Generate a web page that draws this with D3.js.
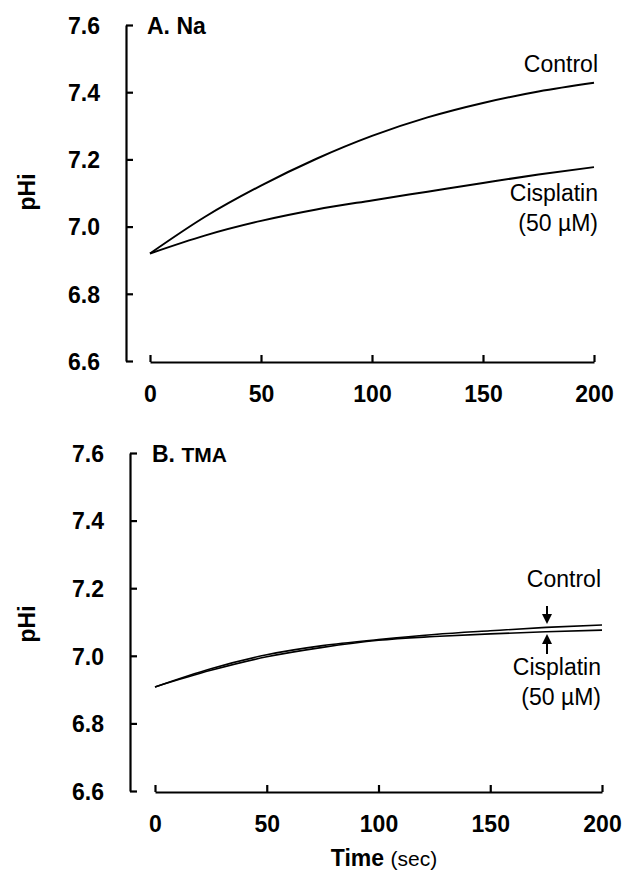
<!DOCTYPE html>
<html><head><meta charset="utf-8">
<script src="https://cdn.jsdelivr.net/npm/d3@7"></script>
<style>
body{margin:0;background:#fff;}
text{font-family:"Liberation Sans",Arial,sans-serif;fill:#000;}
.tick text{font-weight:bold;font-size:23px;}
</style></head>
<body><svg id="c" width="625" height="875"></svg>
<script>
const times = [0, 25, 50, 75, 100, 125, 150, 175, 200];
const naControl   = [6.92, 7.03, 7.122, 7.202, 7.27, 7.325, 7.368, 7.402, 7.428];
const naCisplatin = [6.92, 6.974, 7.017, 7.051, 7.078, 7.104, 7.13, 7.155, 7.177];
const tmaControl   = [6.908, 6.962, 7.003, 7.03, 7.048, 7.063, 7.074, 7.084, 7.091];
const tmaCisplatin = [6.908, 6.957, 6.997, 7.025, 7.046, 7.057, 7.065, 7.071, 7.076];
const xTicks = [0, 50, 100, 150, 200];
const yTicks = [6.6, 6.8, 7.0, 7.2, 7.4, 7.6];

const svg = d3.select("#c");

const panels = [
  {title:"A. Na", sub:null, ctrl:naControl, cis:naCisplatin, yTop:25, yBot:361, yAxisX:126, x0:150, x1:594, lw:2, pHiY:192},
  {title:"B. ", sub:"TMA", ctrl:tmaControl, cis:tmaCisplatin, yTop:453, yBot:791, yAxisX:130, x0:155, x1:602, lw:1.6, pHiY:624}
];

panels.forEach((p, i) => {
  const x = d3.scaleLinear().domain([0, 200]).range([p.x0, p.x1]);
  const y = d3.scaleLinear().domain([6.6, 7.6]).range([p.yBot, p.yTop]);
  const g = svg.append("g");

  const ya = d3.axisLeft(y).tickValues(yTicks).tickFormat(d3.format(".1f"))
    .tickSizeInner(-7).tickSizeOuter(0).tickPadding(26);
  const yg = g.append("g").attr("transform", `translate(${p.yAxisX},0)`).call(ya);
  yg.selectAll("path,line").attr("stroke", "#000").attr("stroke-width", 2.2);
  yg.selectAll(".tick text").attr("dy", "0.36em");

  const xa = d3.axisBottom(x).tickValues(xTicks).tickFormat(d3.format("d"))
    .tickSizeInner(-7).tickSizeOuter(0).tickPadding(24);
  const xg = g.append("g").attr("transform", `translate(0,${p.yBot + 1})`).call(xa);
  xg.selectAll("path,line").attr("stroke", "#000").attr("stroke-width", 2.2);

  const line = d3.line().x((d, j) => x(times[j])).y(d => y(d)).curve(d3.curveMonotoneX);
  [p.ctrl, p.cis].forEach(s => {
    g.append("path").datum(s).attr("d", line).attr("fill", "none")
      .attr("stroke", "#000").attr("stroke-width", p.lw);
  });

  // panel title
  const t = g.append("text").attr("x", p.x0 - 3).attr("y", p.yTop + 9)
    .attr("font-weight", "bold").attr("font-size", 23);
  t.append("tspan").text(p.title);
  if (p.sub) t.append("tspan").attr("font-size", 21).text(p.sub);

  // y label
  g.append("text").attr("transform", `translate(35,${p.pHiY}) rotate(-90)`)
    .attr("text-anchor", "middle").attr("font-weight", "bold").attr("font-size", 23).text("pHi");
});

// Panel A labels
svg.append("text").attr("x", 598).attr("y", 72).attr("text-anchor", "end").attr("font-size", 23).text("Control");
svg.append("text").attr("x", 598).attr("y", 201).attr("text-anchor", "end").attr("font-size", 23).text("Cisplatin");
svg.append("text").attr("x", 598).attr("y", 231).attr("text-anchor", "end").attr("font-size", 23).text("(50 µM)");

// Panel B labels
svg.append("text").attr("x", 601).attr("y", 587).attr("text-anchor", "end").attr("font-size", 23).text("Control");
svg.append("text").attr("x", 601).attr("y", 675).attr("text-anchor", "end").attr("font-size", 23).text("Cisplatin");
svg.append("text").attr("x", 601).attr("y", 705).attr("text-anchor", "end").attr("font-size", 23).text("(50 µM)");

// arrows
const ax = 547;
svg.append("line").attr("x1", ax).attr("x2", ax).attr("y1", 606).attr("y2", 616).attr("stroke", "#000").attr("stroke-width", 2);
svg.append("path").attr("d", `M${ax-5},614 L${ax+5},614 L${ax},624 Z`).attr("fill", "#000");
svg.append("line").attr("x1", ax).attr("x2", ax).attr("y1", 654).attr("y2", 642).attr("stroke", "#000").attr("stroke-width", 2);
svg.append("path").attr("d", `M${ax-5},644 L${ax+5},644 L${ax},634 Z`).attr("fill", "#000");

// x label
const xl = svg.append("text").attr("x", 384).attr("y", 866).attr("text-anchor", "middle").attr("font-size", 23);
xl.append("tspan").attr("font-weight", "bold").text("Time ");
xl.append("tspan").attr("font-size", 21).text("(sec)");
</script></body></html>
